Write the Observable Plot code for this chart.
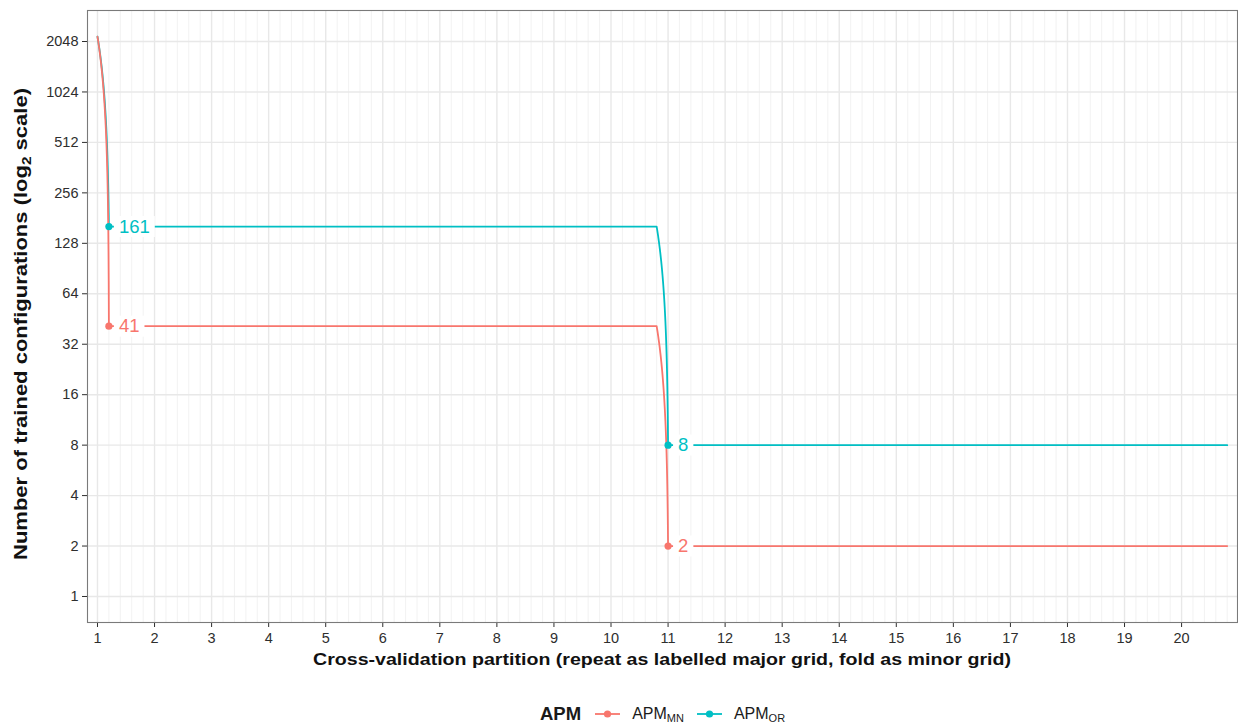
<!DOCTYPE html>
<html>
<head>
<meta charset="utf-8">
<script src="https://cdn.jsdelivr.net/npm/d3@7"></script>
<script src="https://cdn.jsdelivr.net/npm/@observablehq/plot@0.6"></script>
<style>
  body { margin: 0; background: #fff; font-family: "Liberation Sans", Arial, sans-serif; }
  #wrap { position: relative; width: 1238px; height: 727px; overflow: hidden; }
  #legend { position: absolute; left: 540px; top: 700px; height: 28px; display: flex; align-items: center; color: #1a1a1a; }
  #legend .ttl { font-weight: bold; font-size: 18.5px; margin-right: 14px; }
  #legend .sym { width: 25px; height: 14px; margin-right: 12px; }
  #legend .lab { font-size: 16px; margin-right: 13px; }
  #legend sub { font-size: 11px; vertical-align: -3px; line-height: 0; }
</style>
</head>
<body>
<div id="wrap"><div id="legend"></div></div>
<script>
// ---- data ----
const partition = [1.0, 1.2, 10.8, 11.0, 20.8];
const apmMN = [2187, 41, 41, 2, 2];
const apmOR = [2187, 161, 161, 8, 8];
const labelPartition = [1.2, 11.0];
const labelMN = [41, 2];
const labelOR = [161, 8];
const repeats = [1, 2, 3, 4, 5, 6, 7, 8, 9, 10, 11, 12, 13, 14, 15, 16, 17, 18, 19, 20];
const folds = [0, 0.2, 0.4, 0.6, 0.8];
const yTicks = [1, 2, 4, 8, 16, 32, 64, 128, 256, 512, 1024, 2048];
const seriesNames = ["APM_MN", "APM_OR"];
const seriesColors = ["#F8766D", "#00BFC4"];

// ---- tables ----
const lineData = [
  ...partition.map((p, i) => ({x: p, y: apmOR[i], s: "APM_OR"})),
  ...partition.map((p, i) => ({x: p, y: apmMN[i], s: "APM_MN"}))
];
const pointData = [
  ...labelPartition.map((p, i) => ({x: p, y: labelOR[i], s: "APM_OR"})),
  ...labelPartition.map((p, i) => ({x: p, y: labelMN[i], s: "APM_MN"}))
];
const minorGrid = repeats.flatMap(r => folds.slice(1).map(f => +(r + f).toFixed(1)));

// ---- layout ----
const W = 1238, H = 690;
const mL = 87, mR = 1, mT = 10, mB = 68;
const yDomain = [0.6996, 3135.6];
const PPD = (H - mT - mB) / Math.log2(yDomain[1] / yDomain[0]); // px per doubling

// emulate ggplot coord_trans: straight segments in data space, drawn on the log scale
function dataSpaceCurve(context) {
  let pts = [];
  return {
    areaStart() {}, areaEnd() {},
    lineStart() { pts = []; },
    point(x, y) { pts.push([+x, +y]); },
    lineEnd() {
      if (!pts.length) return;
      context.moveTo(pts[0][0], pts[0][1]);
      for (let i = 1; i < pts.length; i++) {
        const [x0, y0] = pts[i - 1], [x1, y1] = pts[i];
        if (Math.abs(y1 - y0) < 0.5) { context.lineTo(x1, y1); continue; }
        const u1 = Math.pow(2, -(y1 - y0) / PPD);
        const n = 60;
        for (let k = 1; k <= n; k++) {
          const t = k / n;
          const u = 1 + (u1 - 1) * t;
          context.lineTo(x0 + (x1 - x0) * t, y0 - PPD * Math.log2(u));
        }
      }
    }
  };
}

const color = {domain: seriesNames, range: seriesColors};

const chart = Plot.plot({
  width: W, height: H,
  marginLeft: mL, marginRight: mR, marginTop: mT, marginBottom: mB,
  style: {fontFamily: "Liberation Sans, Arial, sans-serif", fontSize: "14.5px", color: "#2e2e2e", background: "#fff", overflow: "visible"},
  x: {domain: [0.825, 20.98], ticks: repeats, tickFormat: d => String(d), tickSize: 5, tickPadding: 5, label: null},
  y: {type: "log", base: 2, domain: yDomain, ticks: yTicks, tickFormat: d => String(d), tickSize: 5, tickPadding: 4, label: null},
  color,
  marks: [
    Plot.ruleX(minorGrid, {stroke: "#f0f0f0", strokeWidth: 0.9}),
    Plot.ruleX(repeats, {stroke: "#e8e8e8", strokeWidth: 1.4}),
    Plot.ruleY(yTicks, {stroke: "#e8e8e8", strokeWidth: 1.4}),
    Plot.frame({stroke: "#7a7a7a", strokeWidth: 1.1}),
    Plot.line(lineData, {x: "x", y: "y", z: "s", stroke: "s", strokeWidth: 1.8, curve: dataSpaceCurve}),
    Plot.dot(pointData, {x: "x", y: "y", fill: "s", r: 3.6}),
    Plot.text(pointData, {x: "x", y: "y", text: d => String(d.y), fill: "s", textAnchor: "start", dx: 10, fontSize: 18.5})
  ]
});

const wrap = document.getElementById("wrap");
wrap.prepend(chart);

// white label boxes (like geom_label without border)
const svgNS = "http://www.w3.org/2000/svg";
chart.querySelectorAll('g[aria-label="text"] text').forEach(t => {
  const b = t.getBBox();
  const r = document.createElementNS(svgNS, "rect");
  r.setAttribute("x", b.x - 5);
  r.setAttribute("y", b.y + 0.5);
  r.setAttribute("width", b.width + 10);
  r.setAttribute("height", b.height);
  r.setAttribute("fill", "#fff");
  if (t.getAttribute("transform")) r.setAttribute("transform", t.getAttribute("transform"));
  t.parentNode.insertBefore(r, t);
});

// axis titles
const xt = document.createElementNS(svgNS, "text");
xt.setAttribute("x", 662); xt.setAttribute("y", 665);
xt.setAttribute("text-anchor", "middle");
xt.setAttribute("font-weight", "bold"); xt.setAttribute("font-size", "17px"); xt.setAttribute("fill", "#111");
xt.setAttribute("textLength", "698"); xt.setAttribute("lengthAdjust", "spacingAndGlyphs");
xt.textContent = "Cross-validation partition (repeat as labelled major grid, fold as minor grid)";
chart.appendChild(xt);

const yt = document.createElementNS(svgNS, "text");
yt.setAttribute("transform", "translate(27,324) rotate(-90)");
yt.setAttribute("text-anchor", "middle");
yt.setAttribute("font-weight", "bold"); yt.setAttribute("font-size", "18px"); yt.setAttribute("fill", "#111");
yt.setAttribute("textLength", "472"); yt.setAttribute("lengthAdjust", "spacingAndGlyphs");
const p1 = document.createElementNS(svgNS, "tspan"); p1.textContent = "Number of trained configurations (log";
const p2 = document.createElementNS(svgNS, "tspan"); p2.textContent = "2"; p2.setAttribute("font-size", "12.5px"); p2.setAttribute("dy", "4");
const p3 = document.createElementNS(svgNS, "tspan"); p3.textContent = " scale)"; p3.setAttribute("dy", "-4");
yt.append(p1, p2, p3);
chart.appendChild(yt);

// legend
const legend = document.getElementById("legend");
legend.innerHTML = `<span class="ttl">APM</span>` + seriesNames.map((n, i) => {
  const [base, sub] = n.split("_");
  return `<svg class="sym" viewBox="0 0 25 14"><line x1="0" x2="25" y1="7" y2="7" stroke="${seriesColors[i]}" stroke-width="1.8"/><circle cx="12.5" cy="7" r="3.6" fill="${seriesColors[i]}"/></svg><span class="lab">${base}<sub>${sub}</sub></span>`;
}).join("");
</script>
</body>
</html>
